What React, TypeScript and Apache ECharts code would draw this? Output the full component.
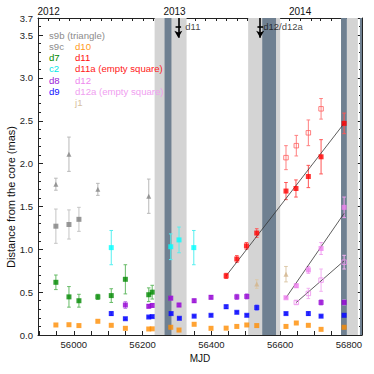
import React, { useEffect, useRef } from "react";
import * as echarts from "echarts";

// ---------- data (MJD, distance, error) ----------
const s9b = [[55948, 1.76, 0.07], [55986, 2.11, 0.2], [56070, 1.70, 0.07], [56218, 1.62, 0.2]];
const s9c = [[55948, 1.27, 0.2], [55986, 1.29, 0.17], [56015, 1.35, 0.14]];
const d7 = [[55948, 0.615, 0.085], [55986, 0.445, 0.12], [56015, 0.40, 0.075], [56070, 0.445, 0.03], [56109, 0.46, 0.08], [56150, 0.65, 0.17], [56218, 0.47, 0.08], [56228, 0.50, 0.08]];
const c2 = [[56109, 1.02, 0.2], [56282, 1.03, 0.15], [56306, 1.11, 0.15], [56349, 1.02, 0.2]];
const d8 = [[56150, 0.35, 0.04], [56218, 0.335, 0.02], [56228, 0.345, 0.02], [56282, 0.43, 0.02], [56306, 0.35, 0.02], [56350, 0.40, 0.02], [56399, 0.44, 0.02], [56474, 0.445, 0.03], [56503, 0.45, 0.03], [56719, 0.38, 0.03], [56786, 0.38, 0.03]];
const d9 = [[56109, 0.25, 0.02], [56150, 0.19, 0.01], [56218, 0.21, 0.01], [56228, 0.215, 0.01], [56283, 0.25, 0.01], [56307, 0.195, 0.01], [56350, 0.22, 0.01], [56399, 0.23, 0.01], [56443, 0.33, 0.02], [56474, 0.265, 0.01], [56503, 0.23, 0.01], [56532, 0.32, 0.03], [56617, 0.25, 0.01], [56682, 0.25, 0.02], [56719, 0.22, 0.01], [56786, 0.23, 0.01]];
const d10 = [[55948, 0.117, 0], [55986, 0.12, 0], [56015, 0.11, 0], [56070, 0.16, 0], [56109, 0.113, 0], [56150, 0.078, 0], [56218, 0.07, 0], [56228, 0.072, 0], [56282, 0.09, 0], [56306, 0.058, 0], [56350, 0.125, 0], [56399, 0.078, 0], [56443, 0.08, 0], [56474, 0.10, 0], [56503, 0.117, 0], [56532, 0.11, 0], [56617, 0.10, 0], [56647, 0.14, 0], [56682, 0.113, 0], [56719, 0.066, 0], [56786, 0.09, 0]];
const d11 = [[56443, 0.69, 0.03], [56474, 0.887, 0.04], [56502, 1.04, 0.04], [56532, 1.19, 0.05], [56617, 1.68, 0.1], [56646, 1.71, 0.1], [56682, 1.85, 0.13], [56719, 2.08, 0.2], [56786, 2.47, 0.12]];
const d11a = [[56617, 2.07, 0.14], [56647, 2.21, 0.12], [56682, 2.36, 0.15], [56719, 2.64, 0.12]];
const d12 = [[56617, 0.435, 0.01], [56647, 0.575, 0.02], [56682, 0.76, 0.04], [56719, 1.01, 0.07], [56786, 1.49, 0.12]];
const d12a = [[56647, 0.38, 0.02], [56682, 0.485, 0.06], [56719, 0.64, 0.13], [56786, 0.85, 0.08]];
const j1 = [[56532, 0.595, 0.05], [56617, 0.71, 0.09]];

// linear fits
const fitD11 = [[56443, 0.69], [56786, 2.47]];
const fitD12 = [[56617, 0.435], [56786, 1.42]];
const fitD12a = [[56647, 0.38], [56786, 0.866]];

// observation gaps
const lightBands = [[56235, 56328], [56507, 56600], [56794, 56826]];
const darkBands = [[56264, 56284], [56548, 56588], [56777, 56794], [56832, 56838]];

// ejection arrows
const arrowMJD = [56304, 56542];
const arrowLabels = ["d11", "d12/d12a"];

// axes
const xMin = 55896;
const xMax = 56838;
const yMin = 0;
const yMax = 3.7;
const xTickLabels = [56000, 56200, 56400, 56600, 56800];
const xTicks = [55900, 55950, 56000, 56050, 56100, 56150, 56200, 56250, 56300, 56350, 56400, 56450, 56500, 56550, 56600, 56650, 56700, 56750, 56800];
const yearMJD = [55927, 56293, 56658];
const yearLabels = ["2012", "2013", "2014"];
const monthMJD = [55927, 55958, 55987, 56018, 56048, 56079, 56109, 56140, 56171, 56201, 56232, 56262, 56293, 56324, 56352, 56383, 56413, 56444, 56474, 56505, 56536, 56566, 56597, 56627, 56658, 56689, 56717, 56748, 56778, 56809];

const legendLeft = [
  ["s9b (triangle)", "#8c8c8c"],
  ["s9c", "#8c8c8c"],
  ["d7", "#008a00"],
  ["c2", "#00e8e8"],
  ["d8", "#9a1ad8"],
  ["d9", "#1010ff"],
];
const legendRight = [
  ["", ""],
  ["d10", "#ff9a20"],
  ["d11", "#ff1010"],
  ["d11a (empty square)", "#ff2020"],
  ["d12", "#ee88ee"],
  ["d12a (empty square)", "#f0a0f0"],
  ["j1", "#d8c0a0"],
];

const FONT = "'Liberation Sans', Arial, Helvetica, sans-serif";

type Def = { name: string; data: number[][]; color: string; err: string; symbol: string; hollow?: boolean };

const defs: Def[] = [
  { name: "s9b", data: s9b, color: "#858585", err: "#b8b8b8", symbol: "triangle" },
  { name: "s9c", data: s9c, color: "#808080", err: "#c4c4c4", symbol: "rect" },
  { name: "d7", data: d7, color: "#008800", err: "#66bb66", symbol: "rect" },
  { name: "c2", data: c2, color: "#00ffff", err: "#55f0f0", symbol: "rect" },
  { name: "d8", data: d8, color: "#9400d3", err: "#c080e8", symbol: "rect" },
  { name: "d9", data: d9, color: "#0000ff", err: "#7070ff", symbol: "rect" },
  { name: "d10", data: d10, color: "#ff8c00", err: "#ffb060", symbol: "rect" },
  { name: "d11", data: d11, color: "#ff0000", err: "#ff5555", symbol: "rect" },
  { name: "d11a", data: d11a, color: "#ff6060", err: "#ff8080", symbol: "rect", hollow: true },
  { name: "d12", data: d12, color: "#ee82ee", err: "#f0a0f0", symbol: "rect" },
  { name: "d12a", data: d12a, color: "#ee90ee", err: "#f2b0f2", symbol: "rect", hollow: true },
  { name: "j1", data: j1, color: "#d2b48c", err: "#dcc8a8", symbol: "triangle" },
];

function errSeries(d: Def) {
  return {
    type: "custom",
    name: d.name + "-err",
    z: 3,
    data: d.data,
    encode: { x: 0, y: 1 },
    renderItem: (params: any, api: any) => {
      const x = api.value(0);
      const y = api.value(1);
      const e = api.value(2);
      if (!e) return null;
      const top = api.coord([x, y + e]);
      const bot = api.coord([x, y - e]);
      const cx = top[0];
      const w = 1.8;
      const st = { stroke: d.err, lineWidth: 1 };
      return {
        type: "group",
        children: [
          { type: "line", shape: { x1: cx, y1: top[1], x2: cx, y2: bot[1] }, style: st },
          { type: "line", shape: { x1: cx - w, y1: top[1], x2: cx + w, y2: top[1] }, style: st },
          { type: "line", shape: { x1: cx - w, y1: bot[1], x2: cx + w, y2: bot[1] }, style: st },
        ],
      };
    },
  };
}

function pointSeries(d: Def) {
  return {
    type: "scatter",
    name: d.name,
    z: 5,
    symbol: d.symbol,
    symbolSize: d.hollow ? 4.5 : 5,
    data: d.data.map((p) => [p[0], p[1]]),
    itemStyle: d.hollow
      ? { color: "rgba(255,255,255,0)", borderColor: d.color, borderWidth: 1 }
      : { color: d.color },
  };
}

function fitSeries(name: string, data: number[][]) {
  return {
    type: "line",
    name,
    z: 4,
    data,
    symbol: "none",
    lineStyle: { color: "#333", width: 0.8 },
  };
}

export default function App() {
  const ref = useRef<HTMLDivElement>(null);
  useEffect(() => {
    if (!ref.current) return;
    const chart = echarts.init(ref.current, undefined, { renderer: "svg" });
    const axisCol = "#222";
    const series: any[] = [];
    series.push({
      type: "scatter",
      name: "bands",
      z: 1,
      data: [],
      markArea: {
        silent: true,
        data: lightBands.map((b) => [
          { xAxis: b[0], itemStyle: { color: "#d4d4d4" } },
          { xAxis: b[1] },
        ]),
      },
    });
    series.push({
      type: "line",
      name: "bands2",
      z: 2,
      data: [],
      markArea: {
        silent: true,
        data: darkBands.map((b) => [
          { xAxis: b[0], itemStyle: { color: "#6f8091" } },
          { xAxis: b[1] },
        ]),
      },
    });
    defs.forEach((d) => series.push(errSeries(d)));
    series.push(fitSeries("fit-d11", fitD11));
    series.push(fitSeries("fit-d12", fitD12));
    series.push(fitSeries("fit-d12a", fitD12a));
    defs.forEach((d) => series.push(pointSeries(d)));
    series.push({
      type: "scatter",
      name: "arrows",
      z: 6,
      symbolSize: 0,
      data: arrowMJD.map((m, i) => ({
        value: [m, 3.6],
        label: { distance: i === 0 ? 7 : 3 },
      })),
      label: {
        show: true,
        position: "right",
        formatter: (p: any) => arrowLabels[p.dataIndex],
        color: "#111",
        fontSize: 9.5,
        fontFamily: FONT,
      },
      markLine: {
        silent: true,
        symbol: ["none", "none"],
        lineStyle: { color: "#000", width: 1.6, type: "solid" },
        label: { show: false },
        data: arrowMJD.flatMap((m) => [
          [{ coord: [m, yMax], symbol: "none" }, { coord: [m, 3.47], symbol: "arrow", symbolSize: [6, 7] }],
          [{ coord: [m - 8, 3.6], symbol: "none" }, { coord: [m + 8, 3.6], symbol: "none" }],
        ]),
      },
    });

    const legendGraphics: any[] = [];
    legendLeft.forEach((l, i) => {
      legendGraphics.push({
        type: "text",
        z: 100,
        x: 49,
        y: 35 + i * 11.3,
        style: { text: l[0], fill: l[1], font: `9.6px ${FONT}`, verticalAlign: "middle" },
      });
    });
    legendRight.forEach((l, i) => {
      if (!l[0]) return;
      legendGraphics.push({
        type: "text",
        z: 100,
        x: 75,
        y: 35 + i * 11.3,
        style: { text: l[0], fill: l[1], font: `9.6px ${FONT}`, verticalAlign: "middle" },
      });
    });
    legendGraphics.push({
      type: "text",
      z: 100,
      x: 11,
      y: 197,
      rotation: Math.PI / 2,
      style: {
        text: "Distance from the core (mas)",
        fill: "#111",
        font: `11px ${FONT}`,
        align: "center",
        verticalAlign: "middle",
      },
    });

    const option: any = {
      animation: false,
      backgroundColor: "#fff",
      grid: { left: 38, right: 12, top: 18, bottom: 39, containLabel: false },
      xAxis: [
        {
          type: "value",
          position: "bottom",
          min: xMin,
          max: xMax,
          name: "MJD",
          nameLocation: "middle",
          nameGap: 13,
          nameTextStyle: { color: "#111", fontSize: 10, fontFamily: FONT },
          splitLine: { show: false },
          axisLine: { show: true, onZero: false, lineStyle: { color: axisCol, width: 1 } },
          axisTick: { show: true, inside: true, length: 4, customValues: xTicks, lineStyle: { color: axisCol } },
          axisLabel: {
            customValues: xTickLabels,
            color: "#222",
            fontSize: 9.5,
            fontFamily: FONT,
            margin: 4,
            formatter: (v: number) => String(v),
          },
        },
        {
          type: "value",
          position: "top",
          min: xMin,
          max: xMax,
          splitLine: { show: false },
          axisLine: { show: true, onZero: false, lineStyle: { color: axisCol, width: 1 } },
          axisTick: { show: true, inside: true, length: 3, customValues: monthMJD, lineStyle: { color: axisCol } },
          axisLabel: {
            customValues: yearMJD,
            color: "#111",
            fontSize: 10,
            fontFamily: FONT,
            margin: 2,
            formatter: (v: number) => {
              const i = yearMJD.indexOf(Math.round(v));
              return i >= 0 ? yearLabels[i] : "";
            },
          },
        },
      ],
      yAxis: [
        {
          type: "value",
          position: "left",
          min: yMin,
          max: yMax,
          interval: 0.5,
          splitLine: { show: false },
          axisLine: { show: true, onZero: false, lineStyle: { color: axisCol, width: 1 } },
          axisTick: { show: true, inside: true, length: 5, lineStyle: { color: axisCol } },
          minorTick: { show: true, splitNumber: 5, length: 3, lineStyle: { color: axisCol } },
          axisLabel: {
            color: "#222",
            fontSize: 9.5,
            fontFamily: FONT,
            margin: 5,
            formatter: (v: number) => v.toFixed(1),
          },
        },
        {
          type: "value",
          position: "right",
          min: yMin,
          max: yMax,
          interval: 0.5,
          splitLine: { show: false },
          axisLine: { show: true, onZero: false, lineStyle: { color: axisCol, width: 1 } },
          axisTick: { show: true, inside: true, length: 5, lineStyle: { color: axisCol } },
          minorTick: { show: true, splitNumber: 5, length: 3, lineStyle: { color: axisCol } },
          axisLabel: { show: false },
        },
      ],
      graphic: legendGraphics,
      series,
    };
    chart.setOption(option);
    return () => chart.dispose();
  }, []);
  return <div ref={ref} style={{ width: 374, height: 374, position: "absolute", left: 0, top: 0 }} />;
}
